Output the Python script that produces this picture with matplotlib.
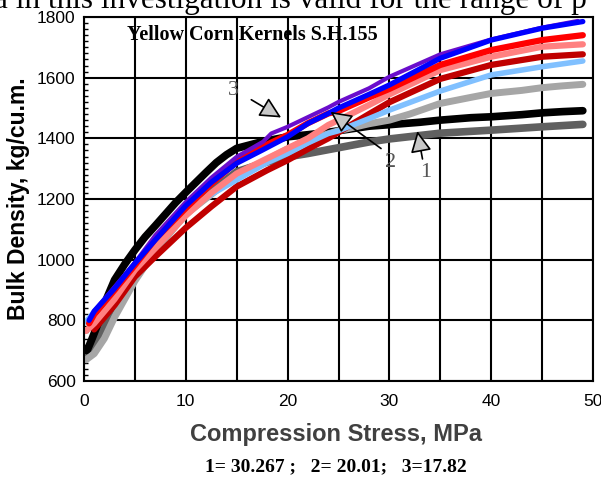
import matplotlib
matplotlib.use("Agg")
import matplotlib.pyplot as plt
from matplotlib.ticker import MultipleLocator

# stress (MPa) / bulk density (kg/cu.m.)
black_x = [0.3, 0.8, 1.5, 2.2, 3, 4, 5, 6, 7, 8, 9, 10, 11, 12, 13, 14, 15, 17.5, 20, 22, 24, 26, 28, 30, 33, 35, 38, 40, 43, 45, 47, 49]
black_y = [700, 740, 800, 870, 933, 985, 1032, 1075, 1112, 1150, 1188, 1222, 1255, 1288, 1320, 1346, 1367, 1389, 1405, 1412, 1420, 1430, 1440, 1445, 1453, 1460, 1468, 1471, 1478, 1484, 1488, 1491]

dgray_x = [0.3, 1, 2, 3, 5, 7, 10, 12.5, 15, 18, 20, 22, 25, 28, 30, 35, 40, 45, 49]
dgray_y = [690, 720, 790, 860, 970, 1050, 1160, 1225, 1290, 1322, 1339, 1350, 1369, 1388, 1398, 1417, 1427, 1438, 1446]

lgray_x = [0.2, 1, 2, 3, 4, 5, 7, 10, 12.5, 15, 18, 20, 22, 25, 28, 30, 32, 35, 38, 40, 43, 45, 47, 49]
lgray_y = [670, 690, 740, 810, 870, 930, 1030, 1150, 1215, 1280, 1330, 1365, 1395, 1425, 1448, 1460, 1480, 1515, 1535, 1548, 1558, 1567, 1573, 1578]

lblue_x = [0.2, 1, 2, 3, 5, 7, 10, 12.5, 15, 18, 20, 22, 24, 25, 28, 30, 35, 40, 45, 49]
lblue_y = [795, 828, 860, 895, 977, 1048, 1160, 1215, 1263, 1320, 1350, 1385, 1416, 1425, 1465, 1493, 1556, 1609, 1636, 1655]

pink_x = [0.2, 1, 2, 3, 5, 7, 10, 12.5, 15, 20, 22, 24, 25, 28, 30, 35, 40, 45, 49]
pink_y = [765, 790, 830, 870, 966, 1038, 1145, 1220, 1284, 1367, 1400, 1444, 1460, 1510, 1545, 1625, 1669, 1702, 1710]

dred_x = [1, 2, 3, 5, 7, 10, 12.5, 15, 18, 20, 22, 24, 25, 28, 30, 35, 40, 45, 49]
dred_y = [770, 810, 850, 944, 1010, 1105, 1175, 1241, 1295, 1328, 1365, 1400, 1420, 1480, 1519, 1596, 1642, 1669, 1677]

red_x = [0.5, 1, 3, 5, 7, 10, 12.5, 15, 17.5, 20, 22, 24, 25, 28, 30, 35, 40, 45, 49]
red_y = [790, 820, 900, 982, 1068, 1170, 1250, 1323, 1372, 1411, 1450, 1482, 1490, 1535, 1563, 1642, 1691, 1724, 1740]

blue_x = [0.5, 1, 3, 5, 7, 10, 12.5, 15, 17.5, 20, 22, 24, 25, 28, 30, 35, 40, 45, 49]
blue_y = [800, 830, 905, 988, 1065, 1178, 1255, 1318, 1361, 1405, 1449, 1482, 1500, 1545, 1576, 1664, 1724, 1763, 1785]

purple_x = [1, 3, 5, 7, 10, 12.5, 15, 17.6, 18.4, 20, 22, 24, 25, 28, 30, 35, 40, 45, 48.5]
purple_y = [830, 910, 990, 1080, 1190, 1270, 1339, 1389, 1416, 1438, 1470, 1502, 1520, 1565, 1603, 1677, 1726, 1765, 1787]

series = [
    (dgray_x, dgray_y, "#606060", 5.5),
    (black_x, black_y, "#000000", 5.5),
    (lgray_x, lgray_y, "#a6a6a6", 5.0),
    (dred_x, dred_y, "#c00000", 4.5),
    (lblue_x, lblue_y, "#80c0ff", 4.0),
    (pink_x, pink_y, "#ff8080", 4.5),
    (red_x, red_y, "#ff0000", 4.5),
    (purple_x, purple_y, "#6a0dcc", 3.0),
    (blue_x, blue_y, "#0000ff", 3.8),
]

serif = "Liberation Serif"
sans = "Liberation Sans"

fig = plt.figure(figsize=(6.01, 4.78), dpi=100)
ax = fig.add_axes([84 / 601, 1 - 381 / 478, 509 / 601, 364 / 478])

for xs, ys, col, lw in series:
    ax.plot(xs, ys, color=col, lw=lw, solid_capstyle="round", solid_joinstyle="round")

ax.set_xlim(0, 50)
ax.set_ylim(600, 1800)
ax.set_xticks(range(0, 51, 10))
ax.set_xticks(range(0, 51, 5), minor=True)
ax.set_yticks(range(600, 1801, 200))
ax.yaxis.set_minor_locator(MultipleLocator(20))
ax.grid(True, which="major", color="black", lw=1.5)
ax.grid(True, which="minor", axis="x", color="black", lw=1.5)
ax.tick_params(axis="x", which="major", length=0, pad=9, labelsize=12.5)
ax.tick_params(axis="y", which="major", length=0, pad=6, labelsize=12.5)
ax.tick_params(axis="y", which="minor", direction="in", length=3, width=1)
ax.tick_params(axis="x", which="minor", length=0)
for lab in ax.get_xticklabels() + ax.get_yticklabels():
    lab.set_fontfamily(sans)
for s in ax.spines.values():
    s.set_linewidth(1.5)

fig.text(19 / 601, 1 - 199 / 478, "Bulk Density, kg/cu.m.", fontfamily=sans, fontweight="bold",
         fontsize=16.5, rotation=90, ha="center", va="center")
fig.text(336 / 601, 1 - 434 / 478, "Compression Stress, MPa", fontfamily=sans, fontweight="bold",
         fontsize=17, color="#404040", ha="center", va="center")

ax.text(0.084, 0.95, "Yellow Corn Kernels S.H.155", transform=ax.transAxes, fontfamily=serif,
        fontweight="bold", fontsize=14.5, va="center", ha="left")

arrow = dict(arrowstyle="-|>,head_length=1.3,head_width=0.65", fc="#c8c8c8", ec="black", lw=1.2)
ax.annotate("", xy=(19.6, 1464), xytext=(16.2, 1532), arrowprops=arrow)
ax.annotate("", xy=(24.0, 1493), xytext=(29.4, 1361), arrowprops=arrow)
ax.annotate("", xy=(32.7, 1433), xytext=(33.3, 1323), arrowprops=arrow)
ax.text(14.7, 1559, "3", fontfamily=serif, fontsize=16, color="#555555", ha="center", va="center")
ax.text(30.1, 1319, "2", fontfamily=serif, fontsize=16, color="#555555", ha="center", va="center")
ax.text(33.6, 1286, "1", fontfamily=serif, fontsize=16, color="#555555", ha="center", va="center")

fig.text(-0.01, 1 - 8 / 478, "a in this investigation is valid for the range of p", fontfamily=serif,
         fontsize=22.5, ha="left", va="baseline")
fig.text(336 / 601, 1 - 467 / 478, "1= 30.267 ;   2= 20.01;   3=17.82", fontfamily=serif,
         fontweight="bold", fontsize=14, ha="center", va="center")

fig.savefig("out.png", dpi=100)
